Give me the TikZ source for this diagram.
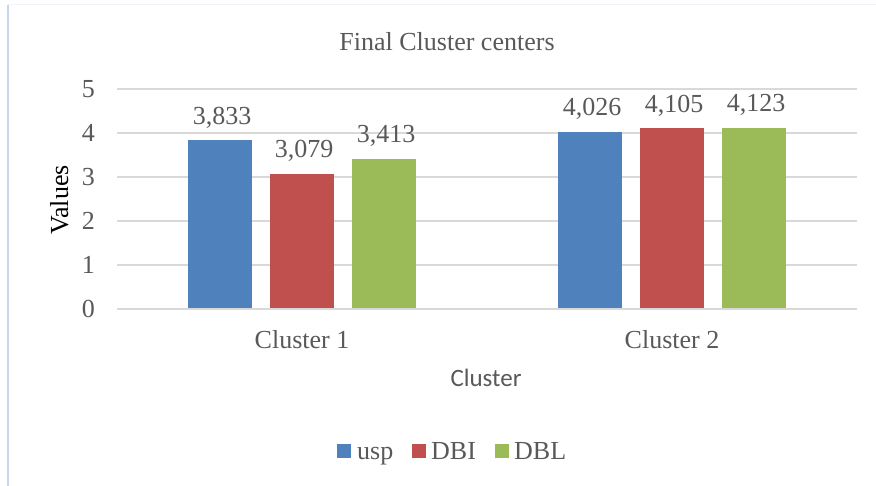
\documentclass[tikz,border=0pt]{standalone}
\usepackage{fontspec}
\setmainfont{Liberation Serif}
\newfontfamily\calib{Carlito}
\definecolor{cblue}{HTML}{4F81BD}
\definecolor{cred}{HTML}{C0504D}
\definecolor{cgreen}{HTML}{9BBB59}
\definecolor{grid}{HTML}{D9D9D9}
\definecolor{txt}{HTML}{595959}
\definecolor{frame}{HTML}{C6D6EC}
\definecolor{frametop}{HTML}{F0F4FA}
\tikzset{
  lbl/.style={inner sep=0pt, text=txt, font=\fontsize{26}{30}\selectfont},
  tick/.style={lbl, anchor=east},
  val/.style={lbl, anchor=base},
  gridline/.style={draw=grid, line width=1.2pt},
  bar/.style={inner sep=0pt, outer sep=0pt, minimum width=64pt, anchor=south},
}
\begin{document}
\begin{tikzpicture}[x=1pt,y=-1pt]
\useasboundingbox (0,0) rectangle (876,486);
\fill[white] (0,0) rectangle (876,486);
% frame
\draw[frametop, line width=1pt] (8,5) -- (876,5);
\draw[frame, line width=1.5pt] (8,5) -- (8,486);
% title
\node[lbl, anchor=base] (title) at (447,51) {Final Cluster centers};
% grid
\foreach \v/\yy in {1/265,2/221,3/177,4/133,5/89}{
  \draw[gridline] (117,\yy) coordinate (gl\v) -- (857,\yy);
  \node[tick] (t\v) at (95,\yy) {\v};
}
\node[tick] (t0) at (95,309) {0};
% bars
\foreach \n/\cx/\val/\col/\lab in {
  a/220/3.833/cblue/{3,833}, b/302/3.079/cred/{3,079}, c/384/3.413/cgreen/{3,413},
  d/590/4.026/cblue/{4,026}, e/672/4.105/cred/{4,105}, f/754/4.123/cgreen/{4,123}}{
  \pgfmathsetmacro{\h}{\val*44}
  \node[bar, fill=\col, minimum height=\h pt] (bar\n) at (\cx,309) {};
  \node[val] (v\n) at ([xshift=2pt, yshift=16pt]bar\n.north) {\lab};
}
\draw[gridline] (117,309) coordinate (axis0) -- (857,309);
% category labels
\node[lbl, anchor=base] (c1) at (302,349) {Cluster 1};
\node[lbl, anchor=base] (c2) at (672,349) {Cluster 2};
% axis titles
\node[inner sep=0pt, anchor=base, text=txt, font=\calib\fontsize{25}{30}\selectfont] (xt) at (486,387) {Cluster};
\node[inner sep=0pt, anchor=base, rotate=90, font=\fontsize{26}{30}\selectfont] (yt) at (68,200) {Values};
% legend
\node[fill=cblue, minimum size=14pt, inner sep=0pt, anchor=north west] (lk1) at (337,444) {};
\node[lbl, anchor=base west] (ll1) at (357,459) {usp};
\node[fill=cred, minimum size=14pt, inner sep=0pt, anchor=north west] (lk2) at (412,444) {};
\node[lbl, anchor=base west] (ll2) at (431,459) {DBI};
\node[fill=cgreen, minimum size=14pt, inner sep=0pt, anchor=north west] (lk3) at (495,444) {};
\node[lbl, anchor=base west] (ll3) at (514,459) {DBL};
\end{tikzpicture}
\end{document}
